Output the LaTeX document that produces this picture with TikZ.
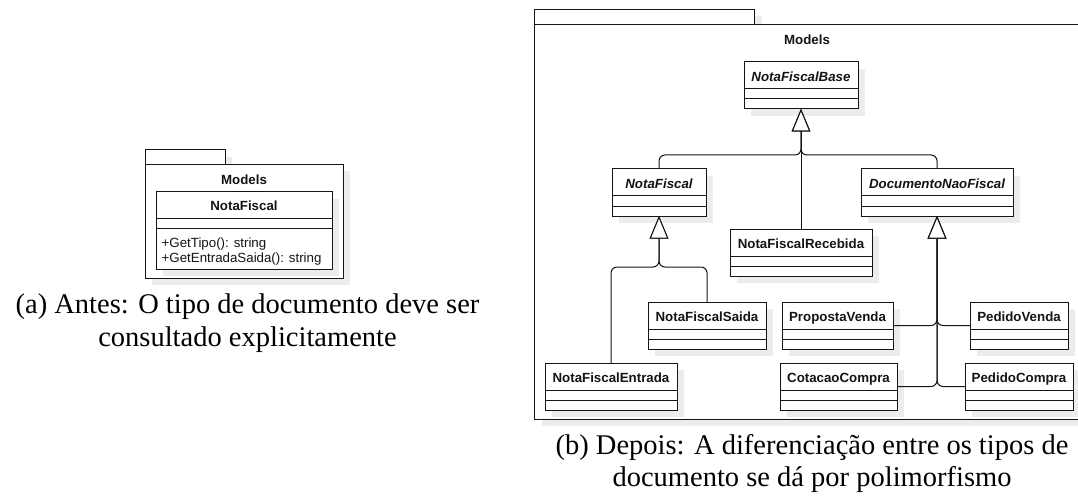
\documentclass[tikz,border=0pt]{standalone}
\usepackage{fontspec}
\setmainfont{Liberation Serif}
\newfontfamily\diafont{Liberation Sans}
\usetikzlibrary{arrows.meta,calc}

\definecolor{shade}{RGB}{236,236,236}
\definecolor{ink}{RGB}{20,20,20}

\tikzset{
  gen/.style={draw=ink, line width=1pt, rounded corners=6pt,
    -{Triangle[length=22.5pt,width=18.5pt,fill=white]}},
  clsbox/.style={draw=ink, line width=1pt, fill=white, inner sep=0pt, outer sep=0pt},
  pkgbox/.style={draw=ink, line width=1pt, fill=white, inner sep=0pt, outer sep=0pt},
  divider/.style={draw=ink, line width=1pt},
  drop/.style={fill=shade, draw=none},
  clsname/.style={font=\diafont\bfseries\fontsize{13.3}{16}\selectfont, inner sep=0pt, anchor=base, text=ink},
  absname/.style={clsname, font=\diafont\bfseries\itshape\fontsize{13.3}{16}\selectfont},
  member/.style={font=\diafont\fontsize{13.3}{16}\selectfont, inner sep=0pt, anchor=base west, text=ink},
  captext/.style={font=\fontsize{28.5}{32.5}\selectfont, inner sep=0pt, anchor=base},
}

% UML class with empty attribute and method compartments:
% name, left x, top y, width, title style, title
\newcommand{\umlclass}[6]{%
  \fill[drop] ({#2+7},{#3+7}) rectangle ++(#4,47);
  \node[clsbox, minimum width=#4pt, minimum height=47pt, anchor=north west] (#1) at (#2,#3) {};
  \draw[divider] ($(#1.north west)+(0,27)$) -- ($(#1.north east)+(0,27)$);
  \draw[divider] ($(#1.north west)+(0,37)$) -- ($(#1.north east)+(0,37)$);
  \node[#5] (#1-name) at ($(#1.north)+(0,19.5)$) {#6};
}

\begin{document}
\begin{tikzpicture}[x=1pt, y=-1pt]
\useasboundingbox (0,0) rectangle (1078,497);
\clip (0,0) rectangle (1078,497);

% ---------- (a) single class ----------
\fill[drop] (152,157) rectangle (232,171.5);
\fill[drop] (152,171.5) rectangle (350,285);
\node[pkgbox, minimum width=80pt, minimum height=14.5pt, anchor=north west] (pkga-tab) at (145,150) {};
\node[pkgbox, minimum width=198pt, minimum height=113.5pt, anchor=north west] (pkga) at (145,164.5) {};
\node[clsname] (pkga-name) at (244,185) {Models};

\fill[drop] (163,199) rectangle (339,276);
\node[clsbox, minimum width=176pt, minimum height=77pt, anchor=north west] (nfa) at (156,192) {};
\draw[divider] ($(nfa.north west)+(0,26)$) -- ($(nfa.north east)+(0,26)$);
\draw[divider] ($(nfa.north west)+(0,36.5)$) -- ($(nfa.north east)+(0,36.5)$);
\node[clsname] (nfa-name) at ($(nfa.north)+(0,19)$) {NotaFiscal};
\node[member] (nfa-m1) at (161.5,247.3) {+GetTipo(): string};
\node[member] (nfa-m2) at (161.5,262.3) {+GetEntradaSaida(): string};

\node[captext] (capa1) at (247.5,313.5) {(a) Antes: O tipo de documento deve ser};
\node[captext] (capa2) at (247.5,346) {consultado explicitamente};

% ---------- (b) class hierarchy ----------
\fill[drop] (541.5,16.3) rectangle (761.5,31.3);
\fill[drop] (541.5,31.3) rectangle (1100,426);
\node[pkgbox, minimum width=220pt, minimum height=15pt, anchor=north west] (pkgb-tab) at (534.5,9.3) {};
\node[pkgbox, minimum width=560pt, minimum height=394.7pt, anchor=north west] (pkgb) at (534.5,24.3) {};
\node[clsname] (pkgb-name) at (807,44.8) {Models};

\umlclass{nfb}{744}{62}{114}{absname}{NotaFiscalBase}
\umlclass{nf}{612}{169}{94}{absname}{NotaFiscal}
\umlclass{dnf}{861}{169}{152}{absname}{DocumentoNaoFiscal}
\umlclass{nfr}{730}{229}{142}{clsname}{NotaFiscalRecebida}
\umlclass{nfs}{648}{302}{118}{clsname}{NotaFiscalSaida}
\umlclass{nfe}{545}{363}{132}{clsname}{NotaFiscalEntrada}
\umlclass{pv}{782}{302}{111}{clsname}{PropostaVenda}
\umlclass{pdv}{970}{302}{98}{clsname}{PedidoVenda}
\umlclass{cc}{780}{363}{117}{clsname}{CotacaoCompra}
\umlclass{pdc}{965}{363}{108}{clsname}{PedidoCompra}

% generalizations
\draw[gen] (nf.north) |- ($(nfb.south)+(0,46)$) -- (nfb.south);
\draw[gen] (dnf.north) |- ($(nfb.south)+(0,46)$) -- (nfb.south);
\draw[gen] (nfr.north) -- (nfb.south);
\draw[gen] (nfe.north) |- ($(nf.south)+(0,51)$) -- (nf.south);
\draw[gen] (nfs.north) |- ($(nf.south)+(0,51)$) -- (nf.south);
\draw[gen] (pv.east) -| (dnf.south);
\draw[gen] (pdv.west) -| (dnf.south);
\draw[gen] (cc.east) -| (dnf.south);
\draw[gen] (pdc.west) -| (dnf.south);

\node[captext] (capb1) at (812,454.3) {(b) Depois: A diferenciação entre os tipos de};
\node[captext] (capb2) at (812,486.7) {documento se dá por polimorfismo};
\end{tikzpicture}
\end{document}
